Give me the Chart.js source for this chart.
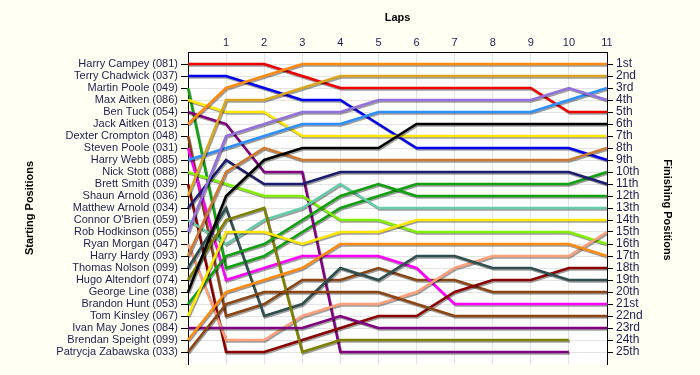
<!DOCTYPE html>
<html>
<head>
<meta charset="utf-8">
<script src="https://cdn.jsdelivr.net/npm/chart.js@4"></script>
<style>
  html, body { margin: 0; padding: 0; background: #FFFFF4; }
  canvas { display: block; }
</style>
</head>
<body>
<canvas id="c" width="700" height="375"></canvas>
<script>
// ---- data ----
const laps = ['0','1','2','3','4','5','6','7','8','9','10','11'];

const startNames = [
  'Harry Campey (081)', 'Terry Chadwick (037)', 'Martin Poole (049)', 'Max Aitken (086)',
  'Ben Tuck (054)', 'Jack Aitken (013)', 'Dexter Crompton (048)', 'Steven Poole (031)',
  'Harry Webb (085)', 'Nick Stott (088)', 'Brett Smith (039)', 'Shaun Arnold (036)',
  'Matthew Arnold (034)', "Connor O'Brien (059)", 'Rob Hodkinson (055)', 'Ryan Morgan (047)',
  'Harry Hardy (093)', 'Thomas Nolson (099)', 'Hugo Altendorf (074)', 'George Line (038)',
  'Brandon Hunt (053)', 'Tom Kinsley (067)', 'Ivan May Jones (084)', 'Brendan Speight (099)',
  'Patrycja Zabawska (033)'
];

const finishLabels = [
  '1st','2nd','3rd','4th','5th','6th','7th','8th','9th','10th','11th','12th','13th',
  '14th','15th','16th','17th','18th','19th','20th','21st','22nd','23rd','24th','25th'
];

// position of each driver at laps 0..11
const harryCampey     = [1, 1, 1, 2, 3, 3, 3, 3, 3, 3, 5, 5];
const terryChadwick   = [2, 2, 3, 4, 4, 6, 8, 8, 8, 8, 8, 9];
const martinPoole     = [3, 18, 17, 15, 13, 12, 11, 11, 11, 11, 11, 10];
const maxAitken       = [4, 5, 5, 7, 7, 7, 7, 7, 7, 7, 7, 7];
const benTuck         = [5, 6, 10, 10, 25, 25, 25, 25, 25, 25, 25, null];
const jackAitken      = [6, 3, 2, 1, 1, 1, 1, 1, 1, 1, 1, 1];
const dexterCrompton  = [7, 22, 21, 19, 19, 18, 19, 19, 20, 20, 20, 20];
const stevenPoole     = [8, 19, 18, 17, 17, 17, 18, 21, 21, 21, 21, 21];
const harryWebb       = [9, 8, 7, 6, 6, 5, 5, 5, 5, 5, 4, 3];
const nickStott       = [10, 11, 12, 12, 14, 14, 15, 15, 15, 15, 15, 16];
const brettSmith      = [11, 25, 25, 24, 23, 22, 22, 20, 19, 19, 18, 18];
const shaunArnold     = [12, 4, 4, 3, 2, 2, 2, 2, 2, 2, 2, 2];
const matthewArnold   = [13, 9, 11, 11, 10, 10, 10, 10, 10, 10, 10, 11];
const connorOBrien    = [14, 16, 14, 13, 11, 13, 13, 13, 13, 13, 13, 13];
const robHodkinson    = [15, 7, 6, 5, 5, 4, 4, 4, 4, 4, 3, 4];
const ryanMorgan      = [16, 24, 24, 22, 21, 21, 20, 18, 17, 17, 17, 15];
const harryHardy      = [17, 10, 8, 9, 9, 9, 9, 9, 9, 9, 9, 8];
const thomasNolson    = [18, 13, 22, 21, 18, 19, 17, 17, 18, 18, 19, 19];
const hugoAltendorf   = [19, 14, 13, 25, 24, 24, 24, 24, 24, 24, 24, null];
const georgeLine      = [20, 12, 9, 8, 8, 8, 6, 6, 6, 6, 6, 6];
const brandonHunt     = [21, 17, 16, 14, 12, 11, 12, 12, 12, 12, 12, 12];
const tomKinsley      = [22, 15, 15, 16, 15, 15, 14, 14, 14, 14, 14, 14];
const ivanMayJones    = [23, 23, 23, 23, 22, 23, 23, 23, 23, 23, 23, 23];
const brendanSpeight  = [24, 20, 19, 18, 16, 16, 16, 16, 16, 16, 16, 17];
const patrycjaZabawska= [25, 21, 20, 20, 20, 20, 21, 22, 22, 22, 22, 22];

const positions = [
  harryCampey, terryChadwick, martinPoole, maxAitken, benTuck, jackAitken, dexterCrompton,
  stevenPoole, harryWebb, nickStott, brettSmith, shaunArnold, matthewArnold, connorOBrien,
  robHodkinson, ryanMorgan, harryHardy, thomasNolson, hugoAltendorf, georgeLine, brandonHunt,
  tomKinsley, ivanMayJones, brendanSpeight, patrycjaZabawska
];

// ---- styles ----
const lineColors = [
  '#EE0000', '#0000EE', '#10A010', '#FFE600', '#800080', '#FF8A10', '#8B4513',
  '#FF00FF', '#2E90FF', '#80F000', '#8B0000', '#DAA520', '#1C1C70', '#66CDAA',
  '#9370DB', '#FFA07A', '#CD7A35', '#2F4F4F', '#808000', '#000000', '#10A010',
  '#FFE600', '#800080', '#FF8A10', '#8B4513'
];
const labelColor = '#1E1E50';
const FONT = '"Liberation Sans", Arial, sans-serif';

const datasets = positions.map((arr, i) => ({
  label: startNames[i],
  data: arr,
  borderColor: lineColors[i],
  backgroundColor: lineColors[i],
  borderWidth: 2.6,
  pointRadius: 0,
  pointHoverRadius: 0,
  tension: 0,
  fill: false,
  yAxisID: 'y'
})).reverse();

const shadowPlugin = {
  id: 'shadow',
  beforeDatasetDraw(chart) {
    const ctx = chart.ctx;
    ctx.save();
    ctx.shadowColor = 'rgba(0,0,0,0.38)';
    ctx.shadowOffsetX = 1;
    ctx.shadowOffsetY = 1.5;
    ctx.shadowBlur = 0;
  },
  afterDatasetDraw(chart) {
    chart.ctx.restore();
  }
};

const bgPlugin = {
  id: 'bg',
  beforeDraw(chart) {
    const { ctx, chartArea: a } = chart;
    ctx.save();
    ctx.fillStyle = '#FFFFF4';
    ctx.fillRect(0, 0, chart.width, chart.height);
    ctx.fillStyle = '#FFFFFF';
    ctx.fillRect(a.left, a.top, a.right - a.left, a.bottom - a.top);
    ctx.restore();
  },
  afterDraw(chart) {
    const { ctx, chartArea: a } = chart;
    ctx.save();
    ctx.fillStyle = '#000000';
    ctx.font = 'bold 11px ' + FONT;
    ctx.textAlign = 'center';
    ctx.textBaseline = 'middle';
    ctx.fillText('Laps', (a.left + a.right) / 2, 18);
    ctx.save();
    ctx.translate(30, 208);
    ctx.rotate(-Math.PI / 2);
    ctx.fillText('Starting Positions', 0, 0);
    ctx.restore();
    ctx.save();
    ctx.translate(667, 210);
    ctx.rotate(Math.PI / 2);
    ctx.fillText('Finishing Positions', 0, 0);
    ctx.restore();
    ctx.restore();
  }
};

const posTicks = (scale) => {
  scale.ticks = startNames.map((_, i) => ({ value: i + 1 }));
};

new Chart(document.getElementById('c'), {
  type: 'line',
  data: { labels: laps, datasets },
  plugins: [bgPlugin, shadowPlugin],
  options: {
    responsive: false,
    devicePixelRatio: 1,
    animation: false,
    events: [],
    layout: { padding: { top: 0, left: 0, right: 0, bottom: 11 } },
    plugins: { legend: { display: false }, tooltip: { enabled: false }, title: { display: false } },
    scales: {
      x: {
        position: 'top',
        offset: false,
        afterFit: (s) => { s.height = 52; },
        grid: { color: '#E4E4E4', lineWidth: 1, drawTicks: false },
        border: { display: true, color: '#000000', width: 1 },
        ticks: {
          padding: 2,
          color: labelColor,
          font: { family: FONT, size: 11 },
          maxRotation: 0,
          autoSkip: false,
          callback: (v, i) => (i === 0 ? '' : laps[i])
        }
      },
      y: {
        position: 'left',
        type: 'linear',
        reverse: true,
        min: 0,
        max: 26,
        afterBuildTicks: posTicks,
        afterFit: (s) => { s.width = 188; },
        grid: { color: '#E4E4E4', lineWidth: 1, tickLength: 7, tickColor: '#000000' },
        border: { display: true, color: '#000000', width: 1 },
        ticks: {
          padding: 3,
          color: labelColor,
          font: { family: FONT, size: 11 },
          autoSkip: false,
          callback: (v) => startNames[v - 1] || ''
        }
      },
      y2: {
        position: 'right',
        type: 'linear',
        reverse: true,
        min: 0,
        max: 26,
        afterBuildTicks: posTicks,
        afterFit: (s) => { s.width = 93; },
        grid: { drawOnChartArea: false, tickLength: 6, tickColor: '#000000' },
        border: { display: true, color: '#000000', width: 1 },
        ticks: {
          padding: 3,
          color: labelColor,
          font: { family: FONT, size: 12 },
          autoSkip: false,
          callback: (v) => finishLabels[v - 1] || ''
        }
      }
    }
  }
});
</script>
</body>
</html>
